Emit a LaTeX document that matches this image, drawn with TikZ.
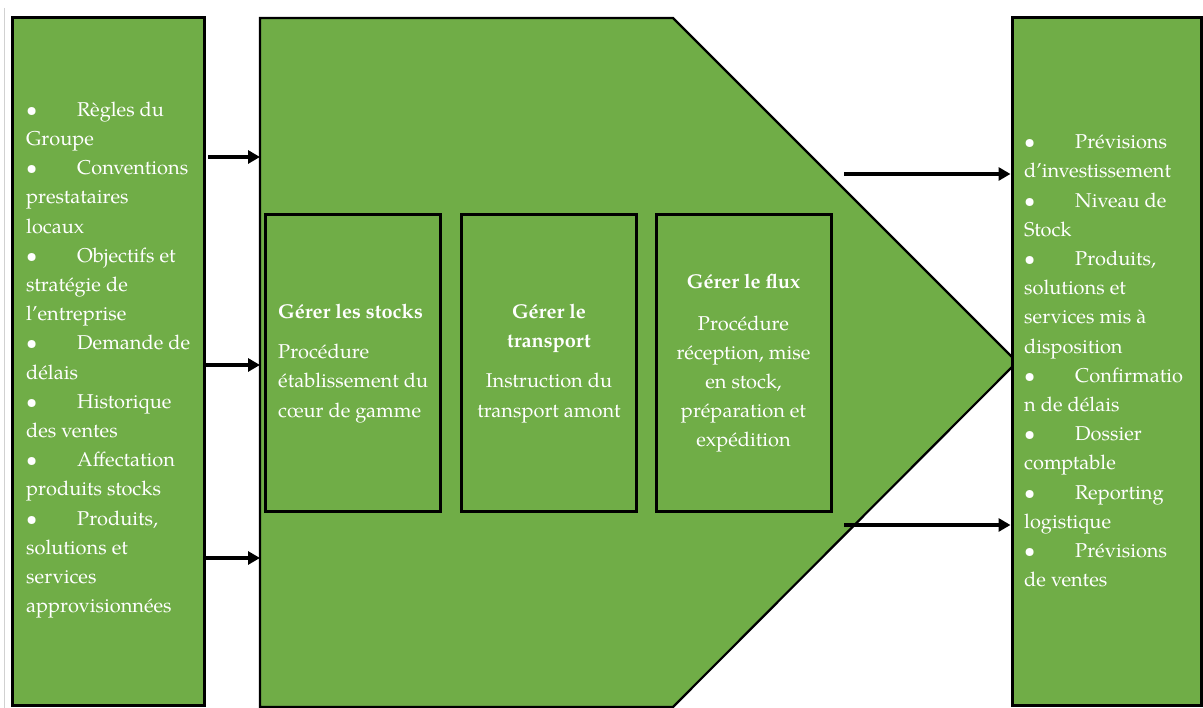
\documentclass[tikz,border=0pt]{standalone}
\usepackage{fontspec}
\setmainfont{TeX Gyre Pagella}
\usetikzlibrary{arrows.meta}
\definecolor{leafgreen}{HTML}{70AD47}
\newcommand{\bul}{\makebox[51pt][l]{\textbullet}}
\begin{document}
\begin{tikzpicture}[x=1pt,y=1pt,
  panel/.style={draw=black, line width=3pt, fill=leafgreen, inner sep=0pt},
  stepbox/.style={draw=black, line width=3pt, fill=leafgreen,
    minimum width=175pt, minimum height=297pt, inner sep=0pt},
  txt/.style={text=white, font=\fontsize{20}{29.2}\selectfont, inner sep=0pt},
  flow/.style={draw=black, line width=3.6pt, -{Triangle[length=12pt,width=13pt]}},
]
\useasboundingbox (0,0) rectangle (1203,708);
\draw[black!18, line width=1pt] (4.5,700) -- (4.5,0);

% central process shape (arrow-shaped pentagon)
\draw[draw=black, line width=2.2pt, fill=leafgreen]
  (260,690) coordinate (pTL) -- (673,690) -- (1017,346) coordinate (tip)
  -- (673,1) -- (260,1) coordinate (pBL) -- cycle;

% input and output panels
\node[panel, minimum width=192pt, minimum height=688pt] (inputs) at (108,346) {};
\node[panel, minimum width=189pt, minimum height=688pt] (outputs) at (1106.5,346) {};

\node[txt, anchor=west, align=left] (intext) at (26,348) {%
\bul Règles du\\ Groupe\\
\bul Conventions\\ prestataires\\ locaux\\
\bul Objectifs et\\ stratégie de\\ l’entreprise\\
\bul Demande de\\ délais\\
\bul Historique\\ des ventes\\
\bul Affectation\\ produits stocks\\
\bul Produits,\\ solutions et\\ services\\ approvisionnées};

\node[txt, anchor=west, align=left] (outtext) at (1024,347) {%
\bul Prévisions\\ d’investissement\\
\bul Niveau de\\ Stock\\
\bul Produits,\\ solutions et\\ services mis à\\ disposition\\
\bul Confirmatio\\ n de délais\\
\bul Dossier\\ comptable\\
\bul Reporting\\ logistique\\
\bul Prévisions\\ de ventes};

% process steps
\node[stepbox] (stocks) at (352.5,344.5) {};
\node[stepbox] (transport) at (549,344.5) {};
\node[stepbox] (flux) at (743.5,344.5) {};

\node[txt, align=left, anchor=west] at (stocks.center -| 278,0) {%
\textbf{Gérer les stocks}\\[11pt]
Procédure\\ établissement du\\ cœur de gamme};
\node[txt, align=center] at (transport.center) {%
\textbf{Gérer le}\\ \textbf{transport}\\[11pt]
Instruction du\\ transport amont};
\node[txt, align=center] at (flux.center) {%
\textbf{Gérer le flux}\\[12pt]
Procédure\\ réception, mise\\ en stock,\\ préparation et\\ expédition};

% flows
\coordinate (src1) at (208,551);
\coordinate (row2) at (0,343);
\coordinate (row3) at (0,150);
\coordinate (out1) at (844,534);
\coordinate (out2) at (844,183);
\draw[flow] (src1) -- (pBL |- src1);
\draw[flow] (inputs.east |- row2) -- (pBL |- row2);
\draw[flow] (inputs.east |- row3) -- (pBL |- row3);
\draw[flow] (out1) -- (outputs.west |- out1);
\draw[flow] (out2) -- (outputs.west |- out2);
\end{tikzpicture}
\end{document}
